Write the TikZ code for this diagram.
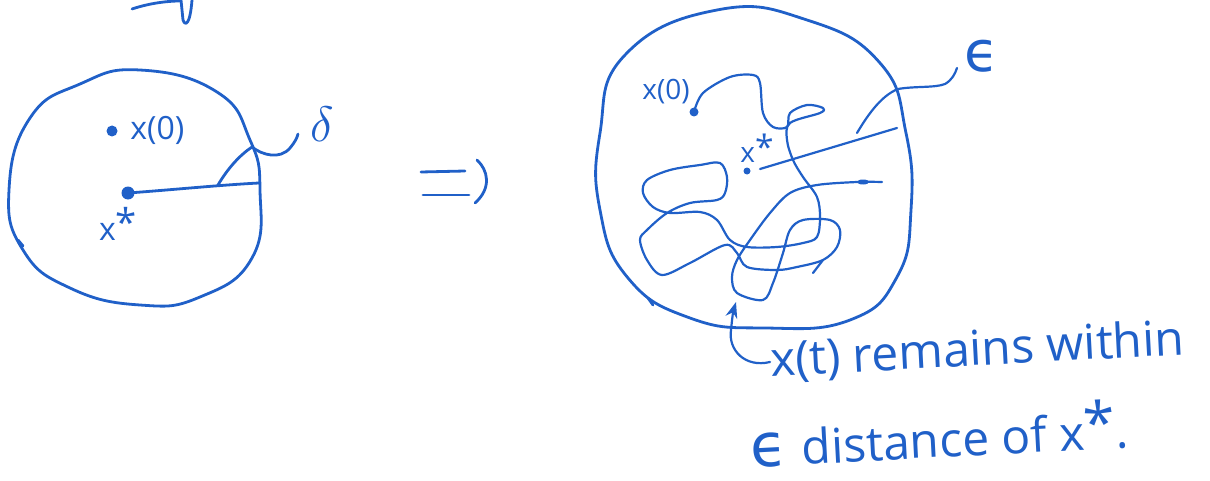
\documentclass[tikz,border=0pt]{standalone}
\usepackage{fontspec}
\setmainfont{Open Sans}
\newfontfamily\dejavu{DejaVu Sans}
\usetikzlibrary{arrows.meta}
\definecolor{pen}{RGB}{32,96,200}
\newcommand{\bigeps}[1]{{\fontsize{#1}{#1}\selectfont\dejavu ϵ}}
\newcommand{\xstar}{x\raisebox{0.12em}{\scalebox{1.2}{*}}}
\tikzset{
  ink/.style={draw=pen, line width=1.4pt, line cap=round, line join=round},
  lbl/.style={text=pen, inner sep=0pt, font=\fontsize{16}{18}\selectfont},
  dotp/.style={fill=pen},
}
\begin{document}
\begin{tikzpicture}[x=0.5pt,y=-0.5pt]
\useasboundingbox (0,0) rectangle (1210,481);
% top-left fragment
\draw[ink] (132,9) .. controls (150,3) and (168,1) .. (180,1);
\draw[ink] (181,0) -- (183,20) .. controls (185,26) and (190,26) .. (192,0);
% ---- left circle
\draw[ink] plot[smooth cycle, tension=0.8] coordinates {
 (140,70) (217,92) (250,140) (260,190)
 (252,258) (200,297) (140,305) (70,288)
 (23,250) (9,190) (30,118) (80,84)};
\draw[ink] (18,240) -- (23,246);
\coordinate (x0L) at (112,131);
\coordinate (xsL) at (128,193);
\fill[dotp] (x0L) circle (5.5);
\fill[dotp] (xsL) circle (6.5);
\node[lbl, anchor=west] (lx0L) at (130,130) {x(0)};
\node[lbl, anchor=center] (lxsL) at (118,224) {\xstar};
\coordinate (rL) at (259,183);
\draw[ink] (xsL) .. controls (170,190) and (220,185) .. (rL);
\node[lbl, font=\fontsize{26}{28}\selectfont] (delta) at (322,124) {$\delta$};
\draw[ink] (218,185) .. controls (228,168) and (240,155) .. (252,147)
  .. controls (262,155) and (280,160) .. (290,148) .. controls (295,142) and (297,138) .. (298,134);
% ---- implies
\draw[ink] (421,172) -- (465,171);
\draw[ink] (423,195) -- (469,195);
\draw[ink] (477,160) .. controls (488,170) and (492,188) .. (475,203);
% ---- right circle
\draw[ink] plot[smooth cycle, tension=0.8] coordinates {
 (717,10) (807,20) (880,63) (906,133)
 (911,210) (897,277) (850,320) (765,328)
 (690,318) (628,278) (600,210) (600,133)
 (625,55)};
\draw[ink] (648,298) -- (653,305);
\coordinate (x0R) at (694,112);
\coordinate (xsR) at (747,171);
\fill[dotp] (x0R) circle (4.5);
\fill[dotp] (xsR) circle (3.5);
\node[lbl, font=\fontsize{14}{16}\selectfont] (lx0R) at (666,92) {x(0)};
\node[lbl, font=\fontsize{14}{16}\selectfont] (lxsR) at (757,148) {\xstar};
% trajectory
\draw[ink, line width=1.1pt] plot[smooth, tension=0.55] coordinates {
 (694,112) (703,93) (730,77) (753,75) (760,83) (763,113) (773,127) (787,127)
 (790,113) (807,105) (823,108) (820,113) (790,123) (787,140) (793,160)
 (803,177) (817,197) (820,217) (817,237) (803,243) (777,247) (747,247)
 (730,240) (717,220) (700,212) (670,213) (653,207) (643,193) (647,180)
 (670,170) (700,165) (720,163) (727,177) (725,193) (717,200) (690,203)
 (667,213) (647,230) (640,240) (647,260) (662,275) (690,263) (725,245)
 (737,253) (747,267) (777,270) (797,267) (823,260) (837,247) (840,230)
 (830,220) (803,220) (790,230) (783,253) (773,283) (763,300) (737,293)
 (732,277) (737,260) (750,240) (770,213) (790,193) (817,185) (857,182) (882,182)};
\draw[ink, line width=1.1pt] (813,273) -- (823,260);
\fill[dotp] (863,182) ellipse (6 and 2.5);
% epsilon radius
\coordinate (rR) at (897,128);
\draw[ink, line width=1.1pt] (760,169) -- (rR);
\node[lbl] (eps) at (982,56) {\bigeps{28}};
\draw[ink, line width=1.1pt] (857,133) .. controls (866,118) and (880,96) .. (898,89)
  .. controls (915,86) and (935,88) .. (945,84) .. controls (952,80) and (955,74) .. (957,68);
% caption
\node[lbl, font=\fontsize{24}{27}\selectfont, anchor=west, rotate=3] (cap1) at (770,362) {x(t) remains within};
\node[lbl, font=\fontsize{24}{27}\selectfont, anchor=west, rotate=3] (cap2) at (750,443) {\bigeps{30}\hspace{0.3em}distance of \xstar.};
\draw[ink, line width=1.1pt, -{Stealth[length=8pt,width=6pt]}] (cap1.west) .. controls (745,368) and (728,350) .. (731,330) .. controls (732,320) and (733,312) .. (736,302);
\end{tikzpicture}
\end{document}
